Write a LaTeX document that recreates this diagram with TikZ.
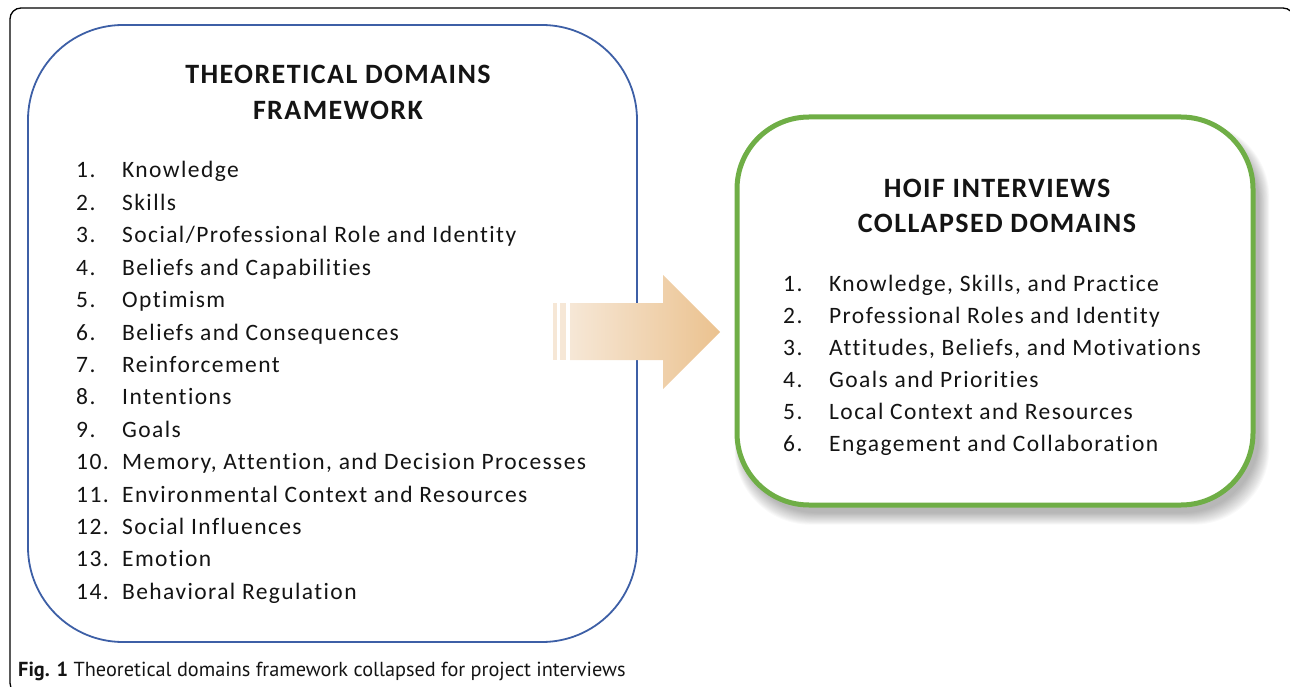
\documentclass[tikz,border=0pt]{standalone}
\usepackage{fontspec}
\setmainfont{Carlito}[Ligatures=NoCommon]
\newfontfamily\bodyfont{Carlito}[Ligatures=NoCommon,LetterSpace=6]
\newfontfamily\headfont{Carlito}[Ligatures=NoCommon,LetterSpace=5]
\newfontfamily\capfont{PT Sans}
\definecolor{tdfblue}{HTML}{3D5FA6}
\definecolor{hoifgreen}{HTML}{6FAE46}
\definecolor{arrowlight}{HTML}{F6E7D6}
\definecolor{arrowdark}{HTML}{EBC28F}
\definecolor{inktext}{HTML}{141414}
\begin{document}
\begin{tikzpicture}[x=1pt,y=-1pt,
  outerframe/.style={draw=black,line width=1.3pt,rounded corners=11pt},
  tdfbox/.style={draw=tdfblue,line width=1.8pt,rounded corners=95pt,
    minimum width=609pt,minimum height=617pt,inner sep=0pt},
  hoifbox/.style={draw=hoifgreen,line width=5pt,rounded corners=72pt,fill=white,
    minimum width=516pt,minimum height=388pt,inner sep=0pt},
  heading/.style={font=\headfont\fontsize{28}{30}\selectfont\bfseries,text=inktext,anchor=base,inner sep=0pt},
  listitem/.style={font=\bodyfont\fontsize{23.5}{28}\selectfont,text=inktext,anchor=base west,inner sep=0pt},
]
\useasboundingbox (0,0) rectangle (1290,687);
\clip (0,0) rectangle (1290,687);

% outer figure frame
\draw[outerframe] (10,8) rectangle (1294,694);

% left box: Theoretical Domains Framework
\node[tdfbox] (tdf) at (332.5,333.5) {};
\node[heading] (tdftitleA) at (338,84) {THEORETICAL DOMAINS};
\node[heading] (tdftitleB) at (338,120) {FRAMEWORK};
\foreach \n/\t [count=\i from 0] in {
  1./Knowledge,
  2./Skills,
  3./{Social/Professional Role and Identity},
  4./Beliefs and Capabilities,
  5./Optimism,
  6./Beliefs and Consequences,
  7./Reinforcement,
  8./Intentions,
  9./Goals,
  10./{Memory, Attention, and Decision Processes},
  11./Environmental Context and Resources,
  12./Social Influences,
  13./Emotion,
  14./Behavioral Regulation}{
  \node[listitem] (tdfnum\i) at (76,178+32.4*\i) {\n};
  \node[listitem] (tdfitem\i) at (122,178+32.4*\i) {\t};
}

% soft shadow under the right box
\foreach \s in {0,1,...,13}{
  \fill[black,opacity=0.024,rounded corners=76pt]
    (741-\s*0.5,127-\s*0.4) rectangle (1259+\s*0.8,513+\s*0.9);
}

% right box: collapsed domains
\node[hoifbox] (hoif) at (995,311) {};
\node[heading] (hoiftitleA) at (997,197) {HOIF INTERVIEWS};
\node[heading] (hoiftitleB) at (997,233) {COLLAPSED DOMAINS};
\foreach \n/\t [count=\i from 0] in {
  1./{Knowledge, Skills, and Practice},
  2./Professional Roles and Identity,
  3./{Attitudes, Beliefs, and Motivations},
  4./Goals and Priorities,
  5./Local Context and Resources,
  6./Engagement and Collaboration}{
  \node[listitem] (hoifnum\i) at (783,291+32*\i) {\n};
  \node[listitem] (hoifitem\i) at (829,291+32*\i) {\t};
}

% striped block arrow between the boxes
\fill[arrowlight] (553,303) rectangle (557,360);
\fill[arrowlight] (560,303) rectangle (566,360);
\shade[left color=arrowlight,right color=arrowdark]
  (570,303) -- (663,303) -- (663,275) -- (720,332) -- (663,389)
  -- (663,360) -- (570,360) -- cycle;

% caption
\node[anchor=base west,inner sep=0pt,text=inktext,
  font=\capfont\fontsize{20.3}{24}\selectfont] (caption) at (18,676)
  {\textbf{Fig. 1} Theoretical domains framework collapsed for project interviews};
\end{tikzpicture}
\end{document}
